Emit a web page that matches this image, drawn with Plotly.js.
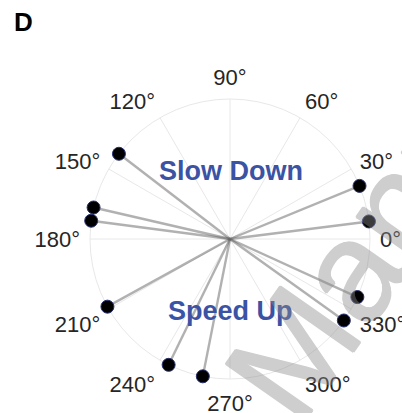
<!DOCTYPE html>
<html>
<head>
<meta charset="utf-8">
<script src="https://cdn.plot.ly/plotly-3.0.1.min.js"></script>
<style>
  html, body { margin: 0; padding: 0; background: #fff; }
  #chart { width: 402px; height: 413px; }
</style>
</head>
<body>
<div id="chart"></div>
<script>
// Phase angle (degrees) of each cell and its normalised vector length
const phaseDeg = [7.2, 22.3, 142.5, 167.0, 172.5, 208.9, 244.0, 258.8, 324.4, 335.5];
const vecLen   = [1, 1, 1, 1, 1, 1, 1, 1, 1, 1];

// Angular tick positions
const angleTicks = [0, 30, 60, 90, 120, 150, 180, 210, 240, 270, 300, 330];

// Region labels
const regionLabels = ["Slow Down", "Speed Up"];

const W = 402, H = 413;
const cx = 230, cy = 239, R = 140;

const traces = [];
// one spoke per cell, from the origin out to its end point
phaseDeg.forEach((a, i) => {
  traces.push({
    type: 'scatterpolar',
    mode: 'lines',
    r: [0, vecLen[i]],
    theta: [a, a],
    line: { color: 'rgba(100,100,100,0.5)', width: 2.4 },
    hoverinfo: 'skip',
    showlegend: false,
    cliponaxis: true
  });
});
// end point markers, drawn last so they sit on top of the spokes
traces.push({
  type: 'scatterpolar',
  mode: 'markers',
  r: vecLen,
  theta: phaseDeg,
  marker: { size: 13, color: '#000000', opacity: 1, line: { color: '#27306e', width: 1 } },
  hoverinfo: 'skip',
  showlegend: false,
  cliponaxis: false
});

// slightly heavier strokes for the diagonal stamp text
const stampGrey = '#8c8c8c';
const stampShadow = ['1px 0 0', '-1px 0 0', '0 1px 0', '0 -1px 0']
  .map(s => s + ' ' + stampGrey).join(', ');

const layout = {
  width: W,
  height: H,
  margin: { l: 0, r: 0, t: 0, b: 0 },
  paper_bgcolor: '#ffffff',
  plot_bgcolor: '#ffffff',
  showlegend: false,
  font: { family: 'Arial, "Liberation Sans", sans-serif', color: '#262626' },
  polar: {
    domain: {
      x: [(cx - R) / W, (cx + R) / W],
      y: [(H - cy - R) / H, (H - cy + R) / H]
    },
    bgcolor: '#ffffff',
    radialaxis: {
      range: [0, 1],
      visible: true,
      showticklabels: false,
      showgrid: false,
      showline: false,
      ticks: '',
      layer: 'below traces'
    },
    angularaxis: {
      direction: 'counterclockwise',
      rotation: 0,
      tickmode: 'array',
      tickvals: angleTicks,
      ticktext: angleTicks.map(v => v + '°'),
      ticks: 'outside',
      ticklen: 5,
      tickcolor: 'rgba(0,0,0,0)',
      tickfont: { size: 22, color: '#262626' },
      showgrid: true,
      gridcolor: '#e8e8e8',
      gridwidth: 1,
      showline: true,
      linecolor: '#e8e8e8',
      linewidth: 1,
      layer: 'below traces'
    }
  },
  annotations: [
    {
      text: '<b>D</b>', xref: 'paper', yref: 'paper',
      x: 12 / W, y: 1 - 5 / H, xanchor: 'left', yanchor: 'top',
      showarrow: false, font: { size: 26, color: '#000000' }
    },
    {
      text: '<b>' + regionLabels[0] + '</b>', xref: 'paper', yref: 'paper',
      x: 231 / W, y: 1 - 171 / H, xanchor: 'center', yanchor: 'middle',
      showarrow: false, font: { size: 27, color: '#3a53a4' }
    },
    {
      text: '<b>' + regionLabels[1] + '</b>', xref: 'paper', yref: 'paper',
      x: 230.5 / W, y: 1 - 311 / H, xanchor: 'center', yanchor: 'middle',
      showarrow: false, font: { size: 27, color: '#3a53a4' }
    },
    {
      text: 'Author Manuscript', xref: 'paper', yref: 'paper',
      x: 326 / W, y: 1 - 304 / H, xanchor: 'center', yanchor: 'middle',
      textangle: -55, showarrow: false, opacity: 0.42,
      font: { size: 142, color: stampGrey, shadow: stampShadow }
    }
  ]
};

Plotly.newPlot('chart', traces, layout, { displayModeBar: false, staticPlot: true });
</script>
</body>
</html>
